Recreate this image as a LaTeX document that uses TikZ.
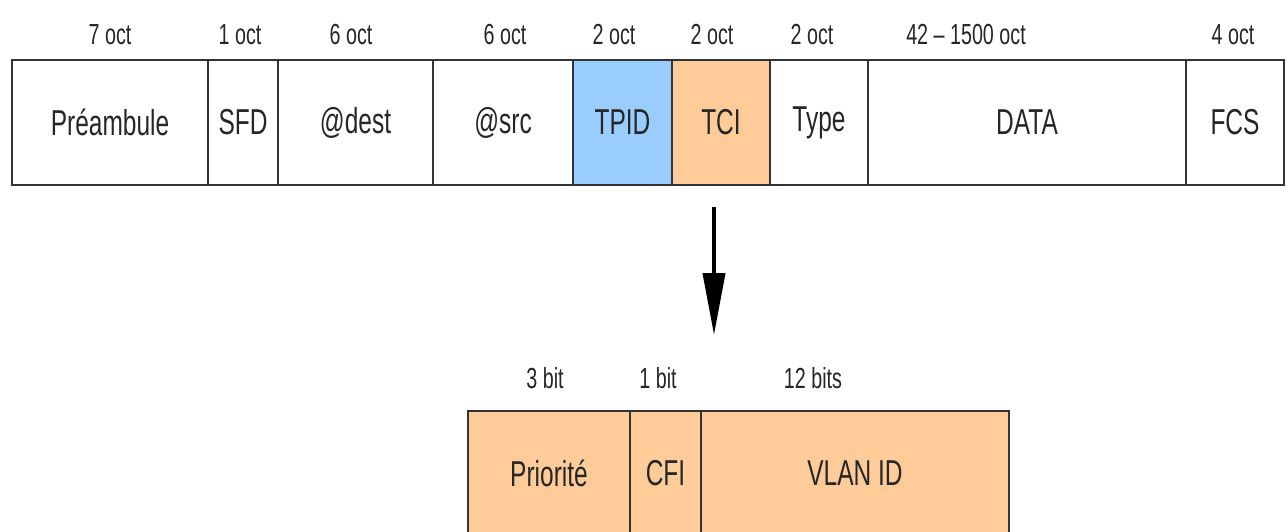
\documentclass[tikz,border=0pt]{standalone}
\usepackage{fontspec}
\setmainfont{Liberation Sans}[FakeStretch=0.68]
\usetikzlibrary{positioning}
\usetikzlibrary{arrows.meta}
\definecolor{tpidblue}{HTML}{99CCFF}
\definecolor{tciorange}{HTML}{FFCC99}

\begin{document}
\begin{tikzpicture}[x=1pt, y=-1pt,
  field/.style={rectangle, draw=black!80, line width=2pt, minimum height=125pt,
                inner sep=0pt, outer sep=0pt, text=black!85,
                font=\fontsize{36}{40}\selectfont},
  size/.style={anchor=base, text=black!85, font=\fontsize{29}{32}\selectfont}]

  \useasboundingbox (0,0) rectangle (1288,532);

  % 802.1Q frame
  \node[field, minimum width=196pt, anchor=north west] (pre) at (12,60) {Préambule};
  \node[field, minimum width=70pt, right=0pt of pre] (sfd) {SFD};
  \node[field, minimum width=155pt, right=0pt of sfd] (dest) {@dest};
  \node[field, minimum width=140pt, right=0pt of dest] (src) {@src};
  \node[field, minimum width=99pt, fill=tpidblue, right=0pt of src] (tpid) {TPID};
  \node[field, minimum width=98pt, fill=tciorange, right=0pt of tpid] (tci) {TCI};
  \node[field, minimum width=98pt, right=0pt of tci] (type) {Type};
  \node[field, minimum width=318pt, right=0pt of type] (data) {DATA};
  \node[field, minimum width=98pt, right=0pt of data] (fcs) {FCS};

  % sizes in octets
  \node[size] (lpre) at (110,45) {7 oct};
  \node[size] (lsfd) at (240,45) {1 oct};
  \node[size] (ldest) at (351,45) {6 oct};
  \node[size] (lsrc) at (505,45) {6 oct};
  \node[size] (ltpid) at (614,45) {2 oct};
  \node[size] (ltci) at (712,45) {2 oct};
  \node[size] (ltype) at (812,45) {2 oct};
  \node[size] (ldata) at (966,45) {42 -- 1500 oct};
  \node[size] (lfcs) at (1233,45) {4 oct};

  % detail of the TCI
  \coordinate (from) at (714,207);
  \coordinate (to) at (714,335);
  \draw[line width=4pt, -{Triangle[length=62pt,width=22pt]}] (from) -- (to);

  \node[field, minimum width=162pt, fill=tciorange, anchor=north west] (prio) at (468,411) {Priorité};
  \node[field, minimum width=71pt, fill=tciorange, right=0pt of prio] (cfi) {CFI};
  \node[field, minimum width=308pt, fill=tciorange, right=0pt of cfi] (vid) {VLAN ID};

  \node[size] (lprio) at (545,388) {3 bit};
  \node[size] (lcfi) at (658,388) {1 bit};
  \node[size] (lvid) at (813,388) {12 bits};
\end{tikzpicture}
\end{document}
